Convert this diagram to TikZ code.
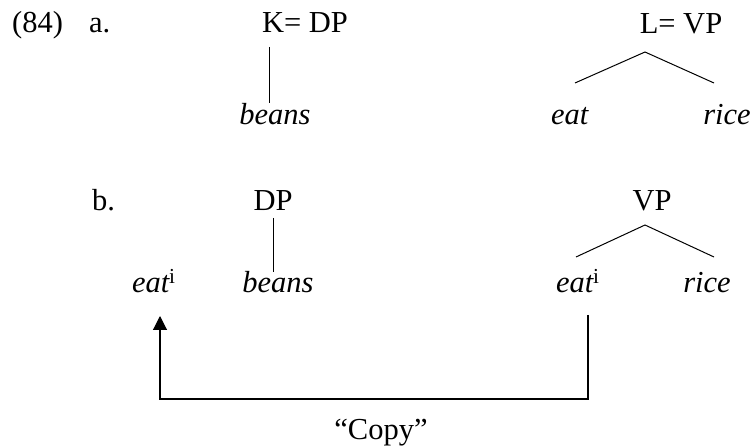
\documentclass[tikz,border=0pt]{standalone}
\usepackage{fontspec}
\setmainfont{Liberation Serif}
\usetikzlibrary{arrows.meta}
\begin{document}
\begin{tikzpicture}[x=1pt,y=-1pt,
  txt/.style={inner sep=0pt,font=\fontsize{30.5}{36}\selectfont},
  br/.style={line width=1pt},
  ln/.style={line width=1.1pt}]
\useasboundingbox (0,0) rectangle (753,446);
% (a)
\node[txt,anchor=base west] (ex) at (12,33) {(84)};
\node[txt,anchor=base west] (la) at (89,33) {a.};
\node[txt,anchor=base] (K) at (305,33) {K= DP};
\node[txt,anchor=base] (beansA) at (275,125) {\textit{beans}};
\coordinate (kt) at (269,47);
\coordinate (kb) at (269,103);
\draw[br] (kt) -- (kb);
\node[txt,anchor=base] (L) at (681,34) {L= VP};
\node[txt,anchor=base] (eatA) at (570,125) {\textit{eat}};
\node[txt,anchor=base] (riceA) at (727,125) {\textit{rice}};
\coordinate (la1) at (645,52);
\coordinate (la2) at (575,83);
\coordinate (la3) at (714,83);
\draw[br] (la2) -- (la1) -- (la3);
% (b)
\node[txt,anchor=base west] (lb) at (92,211) {b.};
\node[txt,anchor=base] (DP) at (273,211) {DP};
\coordinate (dt) at (273,218);
\coordinate (db) at (273,272);
\draw[br] (dt) -- (db);
\node[txt,anchor=base] (VP) at (652,211) {VP};
\coordinate (vb1) at (645,225);
\coordinate (vb2) at (576,257);
\coordinate (vb3) at (714,257);
\draw[br] (vb2) -- (vb1) -- (vb3);
\node[txt,anchor=base west] (eatL) at (132,293) {\textit{eat}\kern-1pt\textsuperscript{i}};
\node[txt,anchor=base] (beansB) at (278,293) {\textit{beans}};
\node[txt,anchor=base west] (eatR) at (556,293) {\textit{eat}\kern-1pt\textsuperscript{i}};
\node[txt,anchor=base] (riceB) at (707,293) {\textit{rice}};
\coordinate (cs) at (588,315);
\coordinate (ce) at (160,316);
\draw[ln,-{Triangle[width=14pt,length=14pt]}] (cs) -- (588,399) -- (160,399) -- (ce);
\node[txt,anchor=base] (copy) at (381,440) {``Copy''};
\end{tikzpicture}
\end{document}
